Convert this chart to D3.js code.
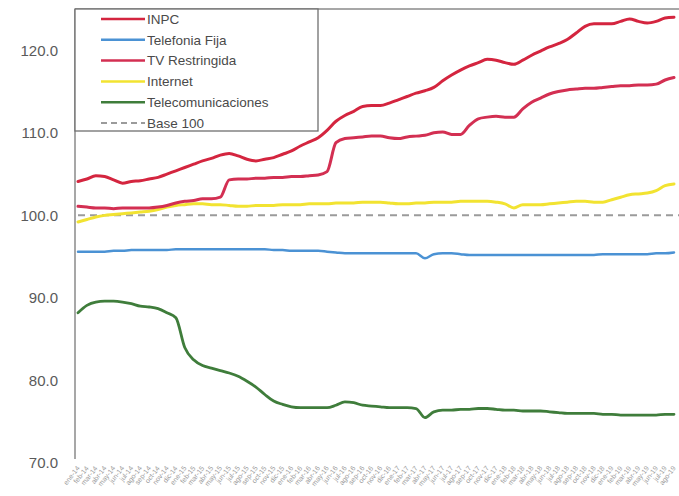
<!DOCTYPE html>
<html>
<head>
<meta charset="utf-8">
<script src="https://cdn.jsdelivr.net/npm/d3@7/dist/d3.min.js"></script>
<style>
  html, body { margin: 0; padding: 0; background: #fff; }
  svg { display: block; font-family: "Liberation Sans", Arial, sans-serif; }
</style>
</head>
<body>
<svg id="chart" width="679" height="496"></svg>
<script>
// Monthly index values (base 100), one value per month
const monthNames = ["ene", "feb", "mar", "abr", "may", "jun", "jul", "ago", "sep", "oct", "nov", "dic"];
const months = d3.range(68).map(i => monthNames[i % 12] + "-" + String(14 + Math.floor(i / 12)));

const inpc = [104.1, 104.4, 104.8, 104.7, 104.3, 103.9, 104.1, 104.2, 104.4, 104.6,
  105.0, 105.4, 105.8, 106.2, 106.6, 106.9, 107.3, 107.5, 107.2, 106.8,
  106.6, 106.8, 107.0, 107.4, 107.8, 108.4, 108.9, 109.4, 110.3, 111.4,
  112.1, 112.6, 113.2, 113.3, 113.3, 113.6, 114.0, 114.4, 114.8, 115.1,
  115.5, 116.3, 117.0, 117.6, 118.1, 118.5, 118.9, 118.8, 118.5, 118.3,
  118.8, 119.4, 119.9, 120.4, 120.8, 121.3, 122.1, 122.9, 123.2, 123.2,
  123.2, 123.5, 123.8, 123.5, 123.3, 123.5, 123.9, 124.0];

const telefoniaFija = [95.6, 95.6, 95.6, 95.6, 95.7, 95.7, 95.8, 95.8, 95.8, 95.8,
  95.8, 95.9, 95.9, 95.9, 95.9, 95.9, 95.9, 95.9, 95.9, 95.9,
  95.9, 95.9, 95.8, 95.8, 95.7, 95.7, 95.7, 95.7, 95.6, 95.5,
  95.4, 95.4, 95.4, 95.4, 95.4, 95.4, 95.4, 95.4, 95.4, 94.8,
  95.3, 95.4, 95.4, 95.3, 95.2, 95.2, 95.2, 95.2, 95.2, 95.2,
  95.2, 95.2, 95.2, 95.2, 95.2, 95.2, 95.2, 95.2, 95.2, 95.3,
  95.3, 95.3, 95.3, 95.3, 95.3, 95.4, 95.4, 95.5];

const tvRestringida = [101.1, 101.0, 100.9, 100.9, 100.8, 100.9, 100.9, 100.9, 100.9, 101.0,
  101.2, 101.5, 101.7, 101.8, 102.0, 102.0, 102.2, 104.3, 104.4, 104.4,
  104.5, 104.5, 104.6, 104.6, 104.7, 104.7, 104.8, 104.9, 105.3, 108.8,
  109.3, 109.4, 109.5, 109.6, 109.6, 109.4, 109.3, 109.5, 109.6, 109.7,
  110.0, 110.1, 109.8, 109.8, 110.9, 111.7, 111.9, 112.0, 111.9, 111.9,
  112.9, 113.7, 114.2, 114.7, 115.0, 115.2, 115.3, 115.4, 115.4, 115.5,
  115.6, 115.7, 115.7, 115.8, 115.8, 115.9, 116.4, 116.7];

const internet = [99.2, 99.5, 99.8, 100.0, 100.1, 100.2, 100.3, 100.4, 100.5, 100.7,
  101.0, 101.2, 101.3, 101.4, 101.4, 101.3, 101.3, 101.2, 101.1, 101.1,
  101.2, 101.2, 101.2, 101.3, 101.3, 101.3, 101.4, 101.4, 101.4, 101.5,
  101.5, 101.5, 101.6, 101.6, 101.6, 101.5, 101.4, 101.4, 101.5, 101.5,
  101.6, 101.6, 101.6, 101.7, 101.7, 101.7, 101.7, 101.6, 101.4, 100.9,
  101.3, 101.3, 101.3, 101.4, 101.5, 101.6, 101.7, 101.7, 101.6, 101.6,
  101.9, 102.2, 102.5, 102.6, 102.7, 103.0, 103.6, 103.8];

const telecomunicaciones = [88.2, 89.1, 89.5, 89.6, 89.6, 89.5, 89.3, 89.0, 88.9, 88.7,
  88.2, 87.6, 84.0, 82.5, 81.8, 81.5, 81.2, 80.9, 80.5, 79.9,
  79.2, 78.3, 77.5, 77.1, 76.8, 76.7, 76.7, 76.7, 76.7, 77.0,
  77.4, 77.3, 77.0, 76.9, 76.8, 76.7, 76.7, 76.7, 76.6, 75.5,
  76.2, 76.4, 76.4, 76.5, 76.5, 76.6, 76.6, 76.5, 76.4, 76.4,
  76.3, 76.3, 76.3, 76.2, 76.1, 76.0, 76.0, 76.0, 76.0, 75.9,
  75.9, 75.8, 75.8, 75.8, 75.8, 75.8, 75.9, 75.9];

const baseValue = 100;
const yTicks = [70, 80, 90, 100, 110, 120];

const series = [
  { name: "INPC", values: inpc, color: "#d4253f", width: 3 },
  { name: "Telefonia Fija", values: telefoniaFija, color: "#4b92d4", width: 2.5 },
  { name: "TV Restringida", values: tvRestringida, color: "#d32f52", width: 3 },
  { name: "Internet", values: internet, color: "#f2e331", width: 3 },
  { name: "Telecomunicaciones", values: telecomunicaciones, color: "#3f7d3b", width: 2.8 }
];

const svg = d3.select("#chart");
const W = 679, H = 496;
const plot = { left: 75, right: 679, top: 9, bottom: 463 };

const x = d3.scalePoint().domain(months).range([78, 674]);
const y = d3.scaleLinear().domain([70, 125]).range([plot.bottom, plot.top]);

svg.append("defs").append("clipPath").attr("id", "plotClip")
  .append("rect").attr("x", plot.left).attr("y", 0).attr("width", W - plot.left).attr("height", H);

// Frame: top border and left axis line
svg.append("line")
  .attr("x1", plot.left).attr("x2", W).attr("y1", plot.top).attr("y2", plot.top)
  .attr("stroke", "#8a8a8a").attr("stroke-width", 1.5);

const yAxis = svg.append("g")
  .attr("transform", `translate(${plot.left},0)`)
  .call(d3.axisLeft(y).tickValues(yTicks).tickSize(0).tickPadding(17).tickFormat(d3.format(".1f")));
yAxis.select(".domain").attr("stroke", "#8a8a8a").attr("stroke-width", 1.5)
  .attr("d", `M0,${plot.top}V${plot.bottom - 4}`);
yAxis.selectAll("text").attr("fill", "#5a5a5a").attr("font-size", 15)
  .attr("font-family", "\"Liberation Sans\", Arial, sans-serif");

// Month labels along the bottom
const xAxis = svg.append("g")
  .attr("transform", `translate(0,${plot.bottom + 4})`)
  .call(d3.axisBottom(x).tickSize(0).tickPadding(0));
xAxis.select(".domain").remove();
xAxis.selectAll("text")
  .attr("fill", "#9a9a9a").attr("font-size", 7)
  .attr("font-family", "\"Liberation Sans\", Arial, sans-serif")
  .attr("text-anchor", "end")
  .attr("dy", "0.3em")
  .attr("transform", "rotate(-52)");

const g = svg.append("g").attr("clip-path", "url(#plotClip)");

// Base 100 reference line
g.append("line")
  .attr("x1", x(months[0])).attr("x2", W)
  .attr("y1", y(baseValue)).attr("y2", y(baseValue))
  .attr("stroke", "#9b9b9b").attr("stroke-width", 2).attr("stroke-dasharray", "7,5");

const line = d3.line()
  .x((d, i) => x(months[i]))
  .y(d => y(d))
  .curve(d3.curveMonotoneX);

const drawOrder = ["Telecomunicaciones", "Telefonia Fija", "Internet", "TV Restringida", "INPC"];
drawOrder.forEach(name => {
  const s = series.find(d => d.name === name);
  g.append("path")
    .datum(s.values)
    .attr("fill", "none")
    .attr("stroke", s.color)
    .attr("stroke-width", s.width)
    .attr("stroke-linejoin", "round")
    .attr("stroke-linecap", "round")
    .attr("d", line);
});

// Legend
const legend = svg.append("g");
legend.append("rect")
  .attr("x", plot.left).attr("y", plot.top).attr("width", 243).attr("height", 122)
  .attr("fill", "#fff").attr("stroke", "#6f6f6f").attr("stroke-width", 1.3);

const legendItems = series.map(s => ({ name: s.name, color: s.color, dash: null }))
  .concat([{ name: "Base 100", color: "#9b9b9b", dash: "6,4" }]);

legendItems.forEach((d, i) => {
  const ly = 19 + i * 20.8;
  legend.append("line")
    .attr("x1", 101).attr("x2", 145).attr("y1", ly).attr("y2", ly)
    .attr("stroke", d.color).attr("stroke-width", d.dash ? 1.8 : 2.5)
    .attr("stroke-dasharray", d.dash);
  legend.append("text")
    .attr("x", 147).attr("y", ly).attr("dy", "0.35em")
    .attr("fill", "#4a4a4a").attr("font-size", 13.5)
    .text(d.name);
});
</script>
</body>
</html>
